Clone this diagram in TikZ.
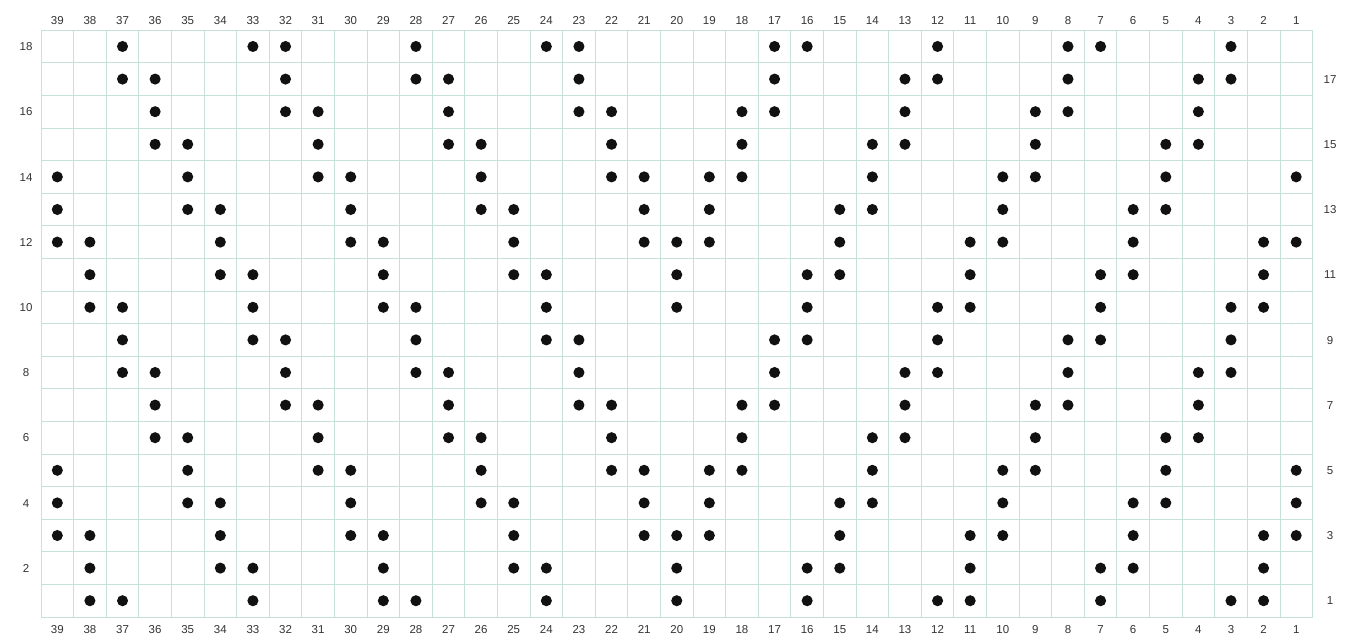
\documentclass[tikz,border=0pt]{standalone}
\usepackage{fontspec}
\setmainfont{Liberation Sans}
\definecolor{kcGrid}{HTML}{C6E1DA}
\definecolor{kcInk}{HTML}{111111}
\definecolor{kcText}{HTML}{333333}
\tikzset{
  stitch/.style={fill=kcInk},
  numlabel/.style={text=kcText,font=\fontsize{11.5}{12}\selectfont,inner sep=0pt,
    text height=8.3pt,text depth=0pt}
}
\begin{document}
\begin{tikzpicture}[x=32.6pt,y=32.6pt]
		\useasboundingbox (-1.258,-0.552) rectangle (40.12,18.926);
		\draw[kcGrid,line width=0.8pt,step=32.6pt] (0,0) grid (39,18);
		% column numbers, top and bottom
		\foreach \c in {1,...,39}{
			\node[numlabel] (top\c) at (39.5-\c,18.31) {\c};
			\node[numlabel] (bot\c) at (39.5-\c,-0.37) {\c};
		}
		% row numbers: even on the left, odd on the right
		\foreach \r in {2,4,...,18}{\node[numlabel] (left\r) at (-0.46,\r-0.5) {\r};}
		\foreach \r in {1,3,...,17}{\node[numlabel] (right\r) at (39.54,\r-0.5) {\r};}
		% purl dots
		\foreach \r/\cols in {
			18/{37,33,32,28,24,23,17,16,12,8,7,3},
			17/{37,36,32,28,27,23,17,13,12,8,4,3},
			16/{36,32,31,27,23,22,18,17,13,9,8,4},
			15/{36,35,31,27,26,22,18,14,13,9,5,4},
			14/{39,35,31,30,26,22,21,19,18,14,10,9,5,1},
			13/{39,35,34,30,26,25,21,19,15,14,10,6,5},
			12/{39,38,34,30,29,25,21,20,19,15,11,10,6,2,1},
			11/{38,34,33,29,25,24,20,16,15,11,7,6,2},
			10/{38,37,33,29,28,24,20,16,12,11,7,3,2},
			9/{37,33,32,28,24,23,17,16,12,8,7,3},
			8/{37,36,32,28,27,23,17,13,12,8,4,3},
			7/{36,32,31,27,23,22,18,17,13,9,8,4},
			6/{36,35,31,27,26,22,18,14,13,9,5,4},
			5/{39,35,31,30,26,22,21,19,18,14,10,9,5,1},
			4/{39,35,34,30,26,25,21,19,15,14,10,6,5,1},
			3/{39,38,34,30,29,25,21,20,19,15,11,10,6,2,1},
			2/{38,34,33,29,25,24,20,16,15,11,7,6,2},
			1/{38,37,33,29,28,24,20,16,12,11,7,3,2}}{
			\foreach \c in \cols{\fill[stitch] (39.5-\c,\r-0.5) circle (0.17);}
		}
	\end{tikzpicture}
\end{document}
